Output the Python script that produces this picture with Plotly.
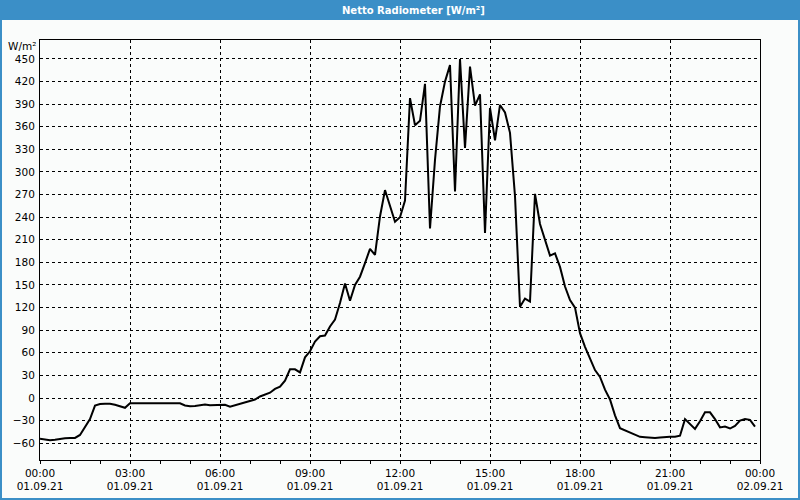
import pandas as pd
import plotly.graph_objects as go

# ---- data (10-minute values, 01.09.21 00:00 .. 23:50) ----
start = "2021-09-01 00:00"
end = "2021-09-02 00:00"
values = [
    -54, -55.5, -56, -55.5, -54, -53.5, -53, -53, -49, -39,
    -28, -10, -8, -7.5, -7.5, -9, -11, -13, -7, -7,
    -7, -7, -7, -7, -7, -7, -7, -7, -7, -10,
    -11, -10.5, -9.5, -8.5, -9.5, -9.5, -9.5, -9, -11.5, -9.5,
    -7, -5, -3.5, -2, 2, 5, 7, 12, 15, 23,
    38, 38, 34, 54, 62, 75, 82, 83, 95, 104,
    126, 152, 129, 150, 161, 179, 198, 190, 241, 276,
    256, 234, 240, 262, 398, 362, 368, 417, 225, 316,
    387, 420, 442, 274, 450, 332, 440, 388, 403, 219,
    385, 342, 389, 379, 352, 268, 121, 132, 128, 271,
    231, 209, 189, 192, 174, 148, 130, 120, 86, 68,
    52, 37, 28, 11, -2, -23, -40, -43, -46, -49,
    -51.5, -52, -52.5, -53, -52.5, -51.5, -51.5, -51.5, -50, -28,
    -34, -41, -31, -19, -19, -28, -39, -38, -40.5, -37,
    -30, -28, -29, -38,
]
times = pd.date_range(start, periods=len(values), freq="10min")

tick_times = pd.date_range(start, end, freq="3h")
tick_text = [t.strftime("%H:%M") + "<br>" + t.strftime("%d.%m.%y") for t in tick_times]
y_ticks = list(range(-60, 451, 30))

title_text = "Netto Radiometer [W/m²]"
unit_text = "W/m²"

# ---- layout geometry (px) ----
W, H = 800, 500
L, R, T, B = 40, 40, 40, 40
pw, ph = W - L - R, H - T - B

def px_x(px):
    return (px - L) / pw

def px_y(py):
    return 1 - (py - T) / ph

BLUE = "#3b8fc7"
BG = "#fafcfb"
FONT = "DejaVu Sans"
DASH = "3px,3px"

fig = go.Figure()
fig.add_trace(go.Scatter(
    x=times, y=values, mode="lines",
    line=dict(color="black", width=2),
    hoverinfo="skip", showlegend=False,
))

fig.update_layout(
    width=W, height=H,
    margin=dict(l=L, r=R, t=T, b=B, pad=0),
    paper_bgcolor=BG, plot_bgcolor=BG,
    font=dict(family=FONT, size=10.5, color="black"),
    showlegend=False,
)

fig.update_xaxes(
    type="date",
    range=[start, end],
    tickmode="array", tickvals=tick_times, ticktext=tick_text,
    ticks="outside", ticklen=3, tickcolor="black", tickwidth=1,
    showgrid=True, gridcolor="black", griddash=DASH, gridwidth=1,
    showline=True, linecolor="black", linewidth=1, mirror=True,
    zeroline=False, automargin=False,
    minor=dict(dtick=3600000, ticks="outside", ticklen=3, tickcolor="black", showgrid=False),
    tickfont=dict(family=FONT, size=10.5, color="black"),
)
fig.update_yaxes(
    range=[-82.3, 475.2],
    tickmode="array", tickvals=y_ticks,
    ticks="", ticklabelstandoff=2,
    showgrid=True, gridcolor="black", griddash=DASH, gridwidth=1,
    showline=True, linecolor="black", linewidth=1, mirror=True,
    zeroline=False, automargin=False,
    tickfont=dict(family=FONT, size=10.5, color="black"),
)

# title bar and window border
fig.add_shape(type="rect", xref="paper", yref="paper",
              x0=px_x(0), x1=px_x(W), y0=px_y(0), y1=px_y(20),
              fillcolor=BLUE, line=dict(width=0), layer="below")
fig.add_shape(type="rect", xref="paper", yref="paper",
              x0=px_x(1), x1=px_x(W - 1), y0=px_y(1), y1=px_y(H - 1),
              fillcolor="rgba(0,0,0,0)", line=dict(color=BLUE, width=2))

fig.add_annotation(text="<b>" + title_text + "</b>", xref="paper", yref="paper",
                   x=px_x(413), y=px_y(10), xanchor="center", yanchor="middle",
                   showarrow=False, font=dict(family=FONT, size=10, color="white"))
fig.add_annotation(text=unit_text, xref="paper", yref="paper",
                   x=px_x(38), y=px_y(46), xanchor="right", yanchor="middle",
                   showarrow=False, font=dict(family=FONT, size=10.5, color="black"))

fig.write_html("out.html")
